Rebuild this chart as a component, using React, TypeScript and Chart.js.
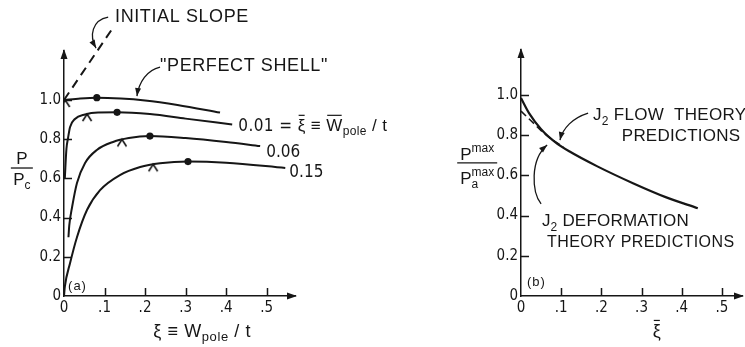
import React, { useEffect, useRef } from "react";
import { Chart, registerables } from "chart.js";

Chart.register(...registerables);

type Pt = { x: number; y: number };

const INK = "#161616";
const SANS = "'Liberation Sans', 'DejaVu Sans', Arial, sans-serif";
const NARROW = "'Liberation Sans Narrow', 'DejaVu Sans Condensed', 'Liberation Sans', sans-serif";

// ---------- panel (a): load vs. pole deflection ----------
const xTicksA = [0, 0.1, 0.2, 0.3, 0.4, 0.5];
const yTicksA = [0, 0.2, 0.4, 0.6, 0.8, 1.0];

const perfectShell: Pt[] = [
  { x: 0, y: 1.0 }, { x: 0.04, y: 1.008 }, { x: 0.081, y: 1.012 }, { x: 0.14, y: 1.008 },
  { x: 0.2, y: 0.998 }, { x: 0.28, y: 0.975 }, { x: 0.385, y: 0.936 },
];
const shell001: Pt[] = [
  { x: 0.002, y: 0.6 }, { x: 0.006, y: 0.75 }, { x: 0.01, y: 0.806 }, { x: 0.015, y: 0.862 },
  { x: 0.027, y: 0.903 }, { x: 0.052, y: 0.926 }, { x: 0.084, y: 0.936 }, { x: 0.131, y: 0.937 },
  { x: 0.212, y: 0.928 }, { x: 0.3, y: 0.905 }, { x: 0.415, y: 0.875 },
];
const shell006: Pt[] = [
  { x: 0.011, y: 0.3 }, { x: 0.013, y: 0.36 }, { x: 0.02, y: 0.454 }, { x: 0.032, y: 0.577 },
  { x: 0.052, y: 0.679 }, { x: 0.081, y: 0.745 }, { x: 0.121, y: 0.786 }, { x: 0.16, y: 0.806 },
  { x: 0.212, y: 0.816 }, { x: 0.3, y: 0.806 }, { x: 0.4, y: 0.786 }, { x: 0.484, y: 0.765 },
];
const shell015: Pt[] = [
  { x: 0, y: 0 }, { x: 0.002, y: 0.046 }, { x: 0.015, y: 0.168 }, { x: 0.032, y: 0.3 },
  { x: 0.057, y: 0.44 }, { x: 0.089, y: 0.54 }, { x: 0.138, y: 0.617 }, { x: 0.188, y: 0.658 },
  { x: 0.237, y: 0.677 }, { x: 0.306, y: 0.686 }, { x: 0.4, y: 0.68 }, { x: 0.546, y: 0.653 },
];
const initialSlope: Pt[] = [{ x: 0, y: 1.0 }, { x: 0.118, y: 1.36 }];
// maximum-load points (dots) and bifurcation points (carets)
const maxLoadPoints: Pt[] = [
  { x: 0.081, y: 1.012 }, { x: 0.131, y: 0.937 }, { x: 0.212, y: 0.816 }, { x: 0.306, y: 0.686 },
];
const bifurcationPoints: Pt[] = [
  { x: 0.003, y: 1.0 }, { x: 0.057, y: 0.928 }, { x: 0.143, y: 0.799 }, { x: 0.22, y: 0.672 },
];

// ---------- panel (b): maximum load vs. imperfection ----------
const xTicksB = [0, 0.1, 0.2, 0.3, 0.4, 0.5];
const yTicksB = [0, 0.2, 0.4, 0.6, 0.8, 1.0];

const flowTheory: Pt[] = [
  { x: 0, y: 0.985 }, { x: 0.02, y: 0.91 }, { x: 0.05, y: 0.83 }, { x: 0.085, y: 0.766 },
  { x: 0.12, y: 0.72 }, { x: 0.19, y: 0.645 }, { x: 0.28, y: 0.56 }, { x: 0.36, y: 0.492 },
  { x: 0.44, y: 0.437 },
];
const deformationTheory: Pt[] = [
  { x: 0, y: 0.92 }, { x: 0.03, y: 0.862 }, { x: 0.06, y: 0.805 }, { x: 0.085, y: 0.768 },
  { x: 0.105, y: 0.742 },
];

// ---------- drawing helpers ----------
type Seg = { t: string; size: number; dy?: number; bar?: boolean; stay?: boolean; font?: string };

function drawRich(
  ctx: CanvasRenderingContext2D, segs: Seg[], x: number, y: number,
  align: "left" | "center" = "left", spacing = 0,
) {
  ctx.save();
  ctx.fillStyle = INK;
  ctx.strokeStyle = INK;
  ctx.textBaseline = "alphabetic";
  ctx.textAlign = "left";
  (ctx as any).letterSpacing = `${spacing}px`;
  const widths = segs.map((s) => {
    ctx.font = `${s.size}px ${s.font || SANS}`;
    return ctx.measureText(s.t).width;
  });
  const total = segs.reduce((acc, s, i) => acc + (s.stay ? 0 : widths[i]), 0);
  let cx = align === "center" ? x - total / 2 : x;
  segs.forEach((s, i) => {
    ctx.font = `${s.size}px ${s.font || SANS}`;
    const by = y + (s.dy || 0);
    ctx.fillText(s.t, cx, by);
    if (s.bar) {
      ctx.lineWidth = 1.2;
      ctx.beginPath();
      ctx.moveTo(cx + 1, by - s.size * 0.92);
      ctx.lineTo(cx + widths[i] - 1, by - s.size * 0.92);
      ctx.stroke();
    }
    if (!s.stay) cx += widths[i];
  });
  ctx.restore();
}

function arrowHead(ctx: CanvasRenderingContext2D, tx: number, ty: number, dx: number, dy: number, len: number, half: number) {
  const m = Math.hypot(dx, dy) || 1;
  const ux = dx / m, uy = dy / m;
  ctx.beginPath();
  ctx.moveTo(tx, ty);
  ctx.lineTo(tx - ux * len - uy * half, ty - uy * len + ux * half);
  ctx.lineTo(tx - ux * len + uy * half, ty - uy * len - ux * half);
  ctx.closePath();
  ctx.fill();
}

function curvedArrow(ctx: CanvasRenderingContext2D, p: number[][]) {
  const [p0, c1, c2, p3] = p;
  ctx.save();
  ctx.strokeStyle = INK;
  ctx.fillStyle = INK;
  ctx.lineWidth = 1.3;
  ctx.beginPath();
  ctx.moveTo(p0[0], p0[1]);
  ctx.bezierCurveTo(c1[0], c1[1], c2[0], c2[1], p3[0], p3[1]);
  ctx.stroke();
  arrowHead(ctx, p3[0], p3[1], p3[0] - c2[0], p3[1] - c2[1], 8, 3);
  ctx.restore();
}

function axesDecor(chart: any, xTicks: number[], yTicks: number[]) {
  const { ctx, chartArea } = chart;
  const sx = chart.scales.x, sy = chart.scales.y;
  ctx.save();
  ctx.strokeStyle = INK;
  ctx.fillStyle = INK;
  ctx.lineWidth = 1.5;
  ctx.beginPath();
  yTicks.filter((v) => v > 0).forEach((v) => {
    const py = Math.round(sy.getPixelForValue(v)) + 0.5;
    ctx.moveTo(chartArea.left, py);
    ctx.lineTo(chartArea.left + 8, py);
  });
  xTicks.filter((v) => v > 0).forEach((v) => {
    const p = Math.round(sx.getPixelForValue(v)) + 0.5;
    ctx.moveTo(p, chartArea.bottom);
    ctx.lineTo(p, chartArea.bottom - 8);
  });
  ctx.stroke();
  arrowHead(ctx, chartArea.right + 2, chartArea.bottom, 1, 0, 10, 3.5);
  arrowHead(ctx, chartArea.left, chartArea.top - 2, 0, -1, 10, 3.5);
  ctx.restore();
}

// caret marker: apex sits on the point, legs hang below it
function makeCaret(): HTMLCanvasElement {
  const c = document.createElement("canvas");
  c.width = 12;
  c.height = 18;
  const g = c.getContext("2d")!;
  g.strokeStyle = INK;
  g.lineWidth = 1.6;
  g.beginPath();
  g.moveTo(1.5, 16);
  g.lineTo(6, 9);
  g.lineTo(10.5, 16);
  g.stroke();
  return c;
}

const curve = (data: Pt[], extra: any = {}) => ({
  data,
  borderColor: INK,
  borderWidth: 2,
  pointRadius: 0,
  cubicInterpolationMode: "monotone",
  fill: false,
  ...extra,
});

const axisFont = { family: NARROW, size: 15 };

function scales(xTicks: number[], yTicks: number[], xMax: number, yMax: number, yWidth: number) {
  return {
    x: {
      type: "linear",
      min: 0,
      max: xMax,
      afterBuildTicks: (s: any) => { s.ticks = xTicks.map((v) => ({ value: v })); },
      afterFit: (s: any) => { s.height = 51; },
      ticks: {
        autoSkip: false,
        maxRotation: 0,
        padding: 3,
        color: INK,
        font: axisFont,
        callback: (v: number) => (v === 0 ? "0" : "." + Math.round(v * 10)),
      },
      grid: { display: false, drawTicks: false },
      border: { display: true, color: INK, width: 1.5 },
    },
    y: {
      type: "linear",
      min: 0,
      max: yMax,
      afterBuildTicks: (s: any) => { s.ticks = yTicks.map((v) => ({ value: v })); },
      afterFit: (s: any) => { s.width = yWidth; },
      ticks: {
        autoSkip: false,
        padding: 3,
        color: INK,
        font: axisFont,
        callback: (v: number) => (v === 0 ? "0" : v.toFixed(1)),
      },
      grid: { display: false, drawTicks: false },
      border: { display: true, color: INK, width: 1.5 },
    },
  };
}

function configA(caret: HTMLCanvasElement): any {
  const decor = {
    id: "decorA",
    afterDatasetsDraw(chart: any) {
      const { ctx } = chart;
      const P = (x: number, y: number) => [chart.scales.x.getPixelForValue(x), chart.scales.y.getPixelForValue(y)];
      axesDecor(chart, xTicksA, yTicksA);

      const [ix, iy] = P(0.126, 1.398);
      drawRich(ctx, [{ t: "INITIAL SLOPE", size: 18 }], ix, iy, "left", 0.6);
      curvedArrow(ctx, [P(0.109, 1.423), P(0.069, 1.408), P(0.062, 1.327), P(0.079, 1.265)]);

      const [sx0, sy0] = P(0.237, 1.148);
      drawRich(ctx, [{ t: "\"PERFECT SHELL\"", size: 18 }], sx0, sy0, "left", 0.6);
      curvedArrow(ctx, [P(0.237, 1.168), P(0.205, 1.153), P(0.185, 1.092), P(0.18, 1.02)]);

      const [l1x, l1y] = P(0.43, 0.842);
      drawRich(ctx, [
        { t: "0.01 = ", size: 17, font: NARROW },
        { t: "ξ", size: 17, bar: true },
        { t: " ≡ ", size: 17 },
        { t: "W", size: 17, bar: true },
        { t: "pole", size: 12, dy: 4 },
        { t: " / t", size: 17 },
      ], l1x, l1y, "left", 0.4);
      const [l2x, l2y] = P(0.499, 0.709);
      drawRich(ctx, [{ t: "0.06", size: 17, font: NARROW }], l2x, l2y);
      const [l3x, l3y] = P(0.556, 0.607);
      drawRich(ctx, [{ t: "0.15", size: 17, font: NARROW }], l3x, l3y);

      const [ax, ay] = P(0.01, 0.031);
      drawRich(ctx, [{ t: "(a)", size: 13 }], ax, ay, "left", 1);

      // axis titles
      const [tx, ty] = P(0.341, -0.209);
      drawRich(ctx, [
        { t: "ξ ≡ W", size: 18 },
        { t: "pole", size: 13, dy: 4 },
        { t: " / t", size: 18 },
      ], tx, ty, "center", 0.6);
      const [yx, yb] = P(-0.104, 0.653);
      ctx.save();
      ctx.strokeStyle = INK;
      ctx.lineWidth = 1.3;
      ctx.beginPath();
      ctx.moveTo(yx - 11, yb);
      ctx.lineTo(yx + 11, yb);
      ctx.stroke();
      ctx.restore();
      drawRich(ctx, [{ t: "P", size: 17 }], yx, yb - 4, "center");
      drawRich(ctx, [{ t: "P", size: 17 }, { t: "c", size: 12, dy: 4 }], yx, yb + 17, "center");
    },
  };
  return {
    type: "line",
    data: {
      datasets: [
        curve(perfectShell),
        curve(shell001),
        curve(shell006),
        curve(shell015),
        curve(initialSlope, { borderDash: [9, 6], cubicInterpolationMode: "default", tension: 0, clip: false }),
        { data: maxLoadPoints, showLine: false, pointRadius: 3.6, pointBackgroundColor: INK, pointBorderWidth: 0 },
        { data: bifurcationPoints, showLine: false, pointStyle: caret, pointRadius: 6 },
      ],
    },
    options: {
      responsive: false,
      animation: false,
      events: [],
      layout: { padding: { left: 0, top: 51, right: 125, bottom: 0 } },
      plugins: { legend: { display: false }, tooltip: { enabled: false } },
      scales: scales(xTicksA, yTicksA, 0.57, 1.25, 64),
    },
    plugins: [decor],
  };
}

function configB(): any {
  const decor = {
    id: "decorB",
    afterDatasetsDraw(chart: any) {
      const { ctx } = chart;
      const P = (x: number, y: number) => [chart.scales.x.getPixelForValue(x), chart.scales.y.getPixelForValue(y)];
      axesDecor(chart, xTicksB, yTicksB);

      const [fx, fy] = P(0.179, 0.876);
      drawRich(ctx, [
        { t: "J", size: 17 },
        { t: "2", size: 12, dy: 5 },
        { t: " FLOW  THEORY", size: 17 },
      ], fx, fy, "left", 0.3);
      const [f2x, f2y] = P(0.251, 0.771);
      drawRich(ctx, [{ t: "PREDICTIONS", size: 17 }], f2x, f2y, "left", 0.2);
      curvedArrow(ctx, [P(0.167, 0.91), P(0.129, 0.886), P(0.104, 0.836), P(0.097, 0.776)]);

      const [dx, dy] = P(0.052, 0.348);
      drawRich(ctx, [
        { t: "J", size: 17 },
        { t: "2", size: 12, dy: 5 },
        { t: " DEFORMATION", size: 17 },
      ], dx, dy, "left", 0.2);
      const [d2x, d2y] = P(0.065, 0.244);
      drawRich(ctx, [{ t: "THEORY PREDICTIONS", size: 16 }], d2x, d2y, "left", 0.4);
      curvedArrow(ctx, [P(0.05, 0.458), P(0.027, 0.517), P(0.022, 0.677), P(0.065, 0.751)]);

      const [bx, by] = P(0.015, 0.05);
      drawRich(ctx, [{ t: "(b)", size: 13 }], bx, by, "left", 1);

      const [tx, ty] = P(0.338, -0.204);
      drawRich(ctx, [{ t: "ξ", size: 18, bar: true }], tx, ty, "center");

      const [yx, yb] = P(-0.109, 0.662);
      ctx.save();
      ctx.strokeStyle = INK;
      ctx.lineWidth = 1.3;
      ctx.beginPath();
      ctx.moveTo(yx - 20, yb);
      ctx.lineTo(yx + 20, yb);
      ctx.stroke();
      ctx.restore();
      drawRich(ctx, [{ t: "P", size: 17 }, { t: "max", size: 12, dy: -8 }], yx, yb - 3, "center");
      drawRich(ctx, [
        { t: "P", size: 17 },
        { t: "a", size: 12, dy: 4, stay: true },
        { t: "max", size: 12, dy: -8 },
      ], yx, yb + 21, "center");
    },
  };
  return {
    type: "line",
    data: {
      datasets: [
        curve(flowTheory, { borderWidth: 2.2 }),
        curve(deformationTheory, { borderDash: [7, 4], borderWidth: 1.6 }),
      ],
    },
    options: {
      responsive: false,
      animation: false,
      events: [],
      layout: { padding: { left: 0, top: 50, right: 3, bottom: 0 } },
      plugins: { legend: { display: false }, tooltip: { enabled: false } },
      scales: scales(xTicksB, yTicksB, 0.55, 1.224, 141),
    },
    plugins: [decor],
  };
}

export default function App() {
  const leftRef = useRef<HTMLCanvasElement>(null);
  const rightRef = useRef<HTMLCanvasElement>(null);

  useEffect(() => {
    document.body.style.margin = "0";
    const caret = makeCaret();
    const a = new Chart(leftRef.current!, configA(caret));
    const b = new Chart(rightRef.current!, configB());
    return () => {
      a.destroy();
      b.destroy();
    };
  }, []);

  return (
    <div style={{ position: "relative", width: 745, height: 347, background: "#fff", overflow: "hidden" }}>
      <canvas ref={leftRef} width={420} height={347} style={{ position: "absolute", left: 0, top: 0 }} />
      <canvas ref={rightRef} width={365} height={347} style={{ position: "absolute", left: 380, top: 0 }} />
    </div>
  );
}
